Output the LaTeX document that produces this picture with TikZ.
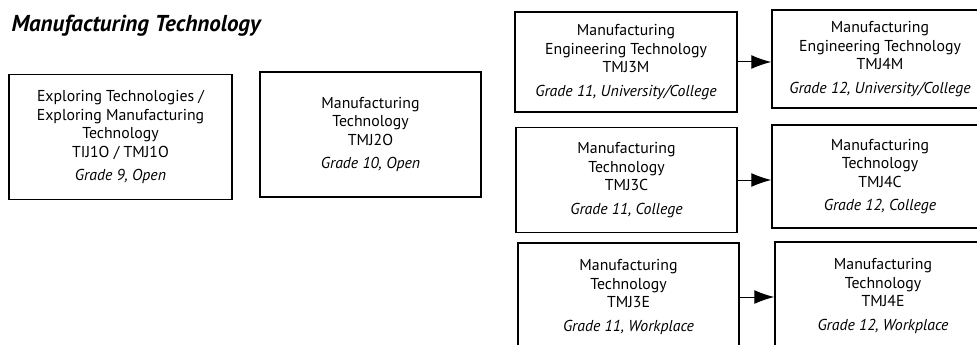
\documentclass[tikz,border=0pt]{standalone}
\usepackage{fontspec}
\setmainfont{PT Sans}
\usetikzlibrary{arrows.meta}

\begin{document}
\begin{tikzpicture}[x=1pt, y=-1pt,
    course/.style={draw, black, line width=1.5pt, align=center, font=\fontsize{15.8}{18.5}\selectfont, inner sep=0pt},
    arr/.style={line width=1pt, -{Latex[length=20pt, width=14pt]}}]
    \useasboundingbox (0,0) rectangle (977,345);
    \node[anchor=west, font=\fontsize{23}{27}\selectfont\bfseries\itshape] (title) at (8,26) {Manufacturing Technology};
    % grade 9 and 10
    \node[course, minimum width=223, minimum height=125] (tij1o) at (120.5,137)
        {Exploring Technologies /\\Exploring Manufacturing\\Technology\\TIJ1O / TMJ1O\\[5pt]\textit{Grade 9, Open}};
    \node[course, minimum width=221, minimum height=125] (tmj2o) at (370.5,134.5)
        {Manufacturing\\Technology\\TMJ2O\\[5pt]\textit{Grade 10, Open}};
    % grade 11
    \node[course, minimum width=222, minimum height=100] (tmj3m) at (626,62)
        {Manufacturing\\Engineering Technology\\TMJ3M\\[5pt]\textit{Grade 11, University/College}};
    \node[course, minimum width=221, minimum height=105] (tmj3c) at (626.5,180)
        {Manufacturing\\Technology\\TMJ3C\\[5pt]\textit{Grade 11, College}};
    \node[course, minimum width=221, minimum height=108] (tmj3e) at (628.5,297)
        {Manufacturing\\Technology\\TMJ3E\\[5pt]\textit{Grade 11, Workplace}};
    % grade 12
    \node[course, minimum width=216, minimum height=98] (tmj4m) at (880,59)
        {Manufacturing\\Engineering Technology\\TMJ4M\\[5pt]\textit{Grade 12, University/College}};
    \node[course, minimum width=216, minimum height=103] (tmj4c) at (880,176.5)
        {Manufacturing\\Technology\\TMJ4C\\[5pt]\textit{Grade 12, College}};
    \node[course, minimum width=216, minimum height=108] (tmj4e) at (883,296)
        {Manufacturing\\Technology\\TMJ4E\\[5pt]\textit{Grade 12, Workplace}};
    \draw[arr] (tmj3m.east) -- (tmj4m.west |- tmj3m.east);
    \draw[arr] (tmj3c.east) -- (tmj4c.west |- tmj3c.east);
    \draw[arr] (tmj3e.east) -- (tmj4e.west |- tmj3e.east);
\end{tikzpicture}
\end{document}
